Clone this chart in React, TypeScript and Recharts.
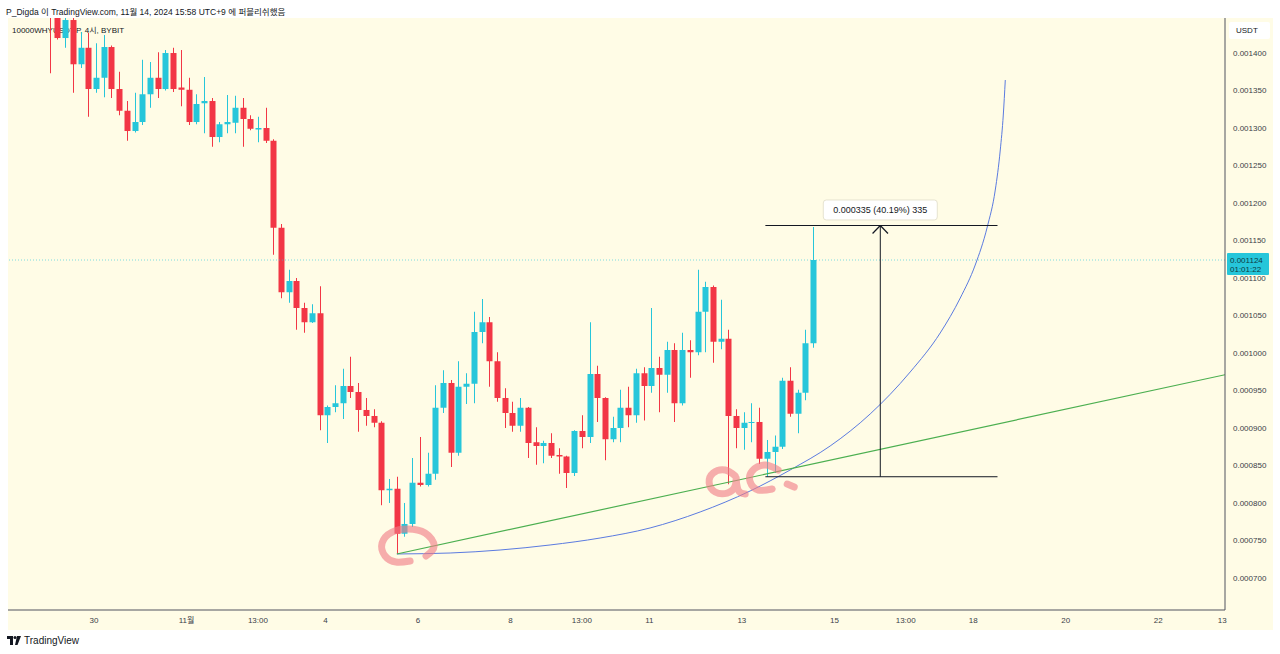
import React from 'react';
import {
  ComposedChart,
  Bar,
  Line,
  XAxis,
  YAxis,
  ReferenceLine,
  ReferenceDot
} from 'recharts';

const UP = '#26C6DA';
const DOWN = '#F23645';
const BG = '#FFFCE6';
const INK = '#131722';
const PINK = '#F07C86';

// 4h candles, index 0 = 10/29 01:00 (UTC+9)
const opens = [
  0.001462, 0.001462, 0.00142, 0.001444, 0.001385, 0.001407, 0.001352, 0.001367, 0.001408, 0.001352,
  0.001323, 0.001296, 0.001308, 0.001345, 0.001367, 0.001352, 0.0014, 0.001354, 0.001351, 0.001308,
  0.001333, 0.001336, 0.001288, 0.001305, 0.001307, 0.001327, 0.001312, 0.001298, 0.0013, 0.001283,
  0.001167, 0.001081, 0.001096, 0.00106, 0.001041, 0.001053, 0.000917, 0.000928, 0.000933, 0.000956,
  0.000948, 0.000924, 0.000916, 0.000907, 0.000817, 0.000819, 0.000759, 0.000772, 0.000827, 0.000824,
  0.000839, 0.000927, 0.00096, 0.000867, 0.000955, 0.000959, 0.001028, 0.001041, 0.000989, 0.00094,
  0.00092, 0.000903, 0.000927, 0.000881, 0.000876, 0.00088, 0.000864, 0.000862, 0.00084, 0.000896,
  0.000888, 0.000972, 0.00094, 0.000885, 0.0009, 0.000927, 0.000917, 0.000973, 0.000956, 0.00098,
  0.000971, 0.001004, 0.000933, 0.001004, 0.001001, 0.001055, 0.001088, 0.001015, 0.001019, 0.000916,
  0.0009, 0.000907, 0.000908, 0.000859, 0.000868, 0.000875, 0.000963, 0.000919, 0.000947, 0.001013
];
const highs = [
  0.001475, 0.001468, 0.00145, 0.00145, 0.001428, 0.001427, 0.001413, 0.001424, 0.00141, 0.001375,
  0.001336, 0.001347, 0.001391, 0.001388, 0.001401, 0.001404, 0.001407, 0.001404, 0.001367, 0.001345,
  0.001368, 0.00134, 0.001308, 0.001344, 0.001343, 0.00134, 0.001317, 0.001315, 0.001327, 0.001285,
  0.001172, 0.001111, 0.0011, 0.001067, 0.001065, 0.001089, 0.00093, 0.000957, 0.000979, 0.000995,
  0.00096, 0.00094, 0.000925, 0.000909, 0.000832, 0.000835, 0.0008, 0.00086, 0.000888, 0.000867,
  0.000957, 0.000977, 0.000964, 0.000989, 0.000973, 0.001055, 0.001072, 0.001048, 0.001001, 0.000953,
  0.000935, 0.00094, 0.000928, 0.000901, 0.000883, 0.000893, 0.000873, 0.000863, 0.000897, 0.000917,
  0.001041, 0.000983, 0.000941, 0.000915, 0.000951, 0.000955, 0.000979, 0.000981, 0.00106, 0.000995,
  0.001015, 0.001013, 0.001027, 0.001017, 0.001111, 0.001095, 0.00109, 0.001071, 0.001031, 0.000925,
  0.000921, 0.000933, 0.000927, 0.000884, 0.00089, 0.000967, 0.000981, 0.000951, 0.001031, 0.001168
];
const lows = [
  0.001373, 0.001418, 0.001407, 0.001347, 0.00138, 0.001315, 0.001347, 0.001341, 0.00134, 0.001317,
  0.001283, 0.001294, 0.001304, 0.001327, 0.00134, 0.00135, 0.001348, 0.001329, 0.001304, 0.001305,
  0.001293, 0.001275, 0.001281, 0.001293, 0.001293, 0.001275, 0.001297, 0.001281, 0.00128, 0.001131,
  0.001073, 0.001067, 0.001031, 0.001027, 0.00104, 0.000897, 0.00088, 0.000921, 0.000912, 0.00094,
  0.000895, 0.000903, 0.000901, 0.000797, 0.0008, 0.000732, 0.000755, 0.000768, 0.000822, 0.000822,
  0.000831, 0.00092, 0.000848, 0.000863, 0.000932, 0.000933, 0.001013, 0.000955, 0.000935, 0.0009,
  0.000895, 0.000895, 0.00086, 0.000851, 0.000853, 0.00086, 0.000839, 0.00082, 0.000836, 0.000873,
  0.00088, 0.000908, 0.000857, 0.000881, 0.000881, 0.000901, 0.000907, 0.00091, 0.000947, 0.000921,
  0.000947, 0.000908, 0.00093, 0.000967, 0.000997, 0.001001, 0.000987, 0.001005, 0.000825, 0.000873,
  0.000871, 0.000881, 0.000852, 0.000835, 0.00084, 0.000872, 0.000915, 0.000893, 0.000937, 0.001007
];
const closes = [
  0.001455, 0.00142, 0.001444, 0.001385, 0.001407, 0.001352, 0.001367, 0.001408, 0.001352, 0.001323,
  0.001296, 0.001308, 0.001345, 0.001367, 0.001352, 0.0014, 0.001352, 0.001351, 0.001308, 0.001332,
  0.001336, 0.001288, 0.001305, 0.001308, 0.001327, 0.001312, 0.001299, 0.0013, 0.001283, 0.001167,
  0.001081, 0.001096, 0.00106, 0.001041, 0.001053, 0.000917, 0.000928, 0.000933, 0.000956, 0.000948,
  0.000924, 0.000916, 0.000907, 0.000817, 0.000819, 0.000759, 0.000772, 0.000827, 0.000824, 0.000839,
  0.000927, 0.00096, 0.000867, 0.000955, 0.000959, 0.001028, 0.001041, 0.000989, 0.00094, 0.00092,
  0.000903, 0.000927, 0.00088, 0.000876, 0.00088, 0.000863, 0.000862, 0.00084, 0.000896, 0.000888,
  0.000972, 0.00094, 0.000885, 0.0009, 0.000927, 0.000917, 0.000973, 0.000956, 0.00098, 0.000971,
  0.001004, 0.000933, 0.001004, 0.001001, 0.001055, 0.001088, 0.001015, 0.001019, 0.000916, 0.0009,
  0.000907, 0.000908, 0.000859, 0.000868, 0.000875, 0.000963, 0.000919, 0.000947, 0.001013, 0.001124
];

const candles = opens.map((o, i) => ({
  i,
  open: o,
  high: highs[i],
  low: lows[i],
  close: closes[i]
}));

// time axis (candle index units)
const xTickPos = [5.75, 17.75, 27, 35.75, 47.75, 59.75, 69, 77.75, 89.75, 101.75, 111, 119.75, 131.75, 143.75, 152.05];
const xTickLabels = ['30', '11월', '13:00', '4', '6', '8', '13:00', '11', '13', '15', '13:00', '18', '20', '22', '13'];
const yTicks = [
  0.0007, 0.00075, 0.0008, 0.00085, 0.0009, 0.00095, 0.001, 0.00105,
  0.0011, 0.00115, 0.0012, 0.00125, 0.0013, 0.00135, 0.0014
];

const lastPrice = 0.001124;
const countdown = '01:01:22';

// drawings
const trendLine = [
  { i: 45, p: 0.000732 },
  { i: 152.4, p: 0.000971 }
];
const curveLine = [
  { i: 45.05, p: 0.000732 },
  { i: 51.92, p: 0.0007333 },
  { i: 58.4, p: 0.0007373 },
  { i: 64.88, p: 0.000744 },
  { i: 71.37, p: 0.0007533 },
  { i: 77.85, p: 0.0007667 },
  { i: 84.34, p: 0.000788 },
  { i: 90.82, p: 0.000816 },
  { i: 96.01, p: 0.000844 },
  { i: 101.2, p: 0.000876 },
  { i: 106.39, p: 0.0009187 },
  { i: 111.58, p: 0.0009747 },
  { i: 115.47, p: 0.0010267 },
  { i: 118.07, p: 0.0010733 },
  { i: 120.01, p: 0.0011173 },
  { i: 121.57, p: 0.001168 },
  { i: 122.61, p: 0.0012173 },
  { i: 123.26, p: 0.0012707 },
  { i: 123.65, p: 0.0013173 },
  { i: 123.91, p: 0.001364 }
];
const scribbleA = [
  { i: 48.8, p: 0.0007293 },
  { i: 49.85, p: 0.0007427 },
  { i: 48.68, p: 0.00076 },
  { i: 46.47, p: 0.0007653 },
  { i: 44.4, p: 0.0007613 },
  { i: 43.1, p: 0.0007467 },
  { i: 43.49, p: 0.0007293 },
  { i: 44.9, p: 0.0007213 },
  { i: 46.73, p: 0.0007227 }
];
const scribbleB = [
  { i: 88.88, p: 0.000836 },
  { i: 87.59, p: 0.000844 },
  { i: 86.03, p: 0.00084 },
  { i: 85.51, p: 0.0008267 },
  { i: 86.29, p: 0.0008147 },
  { i: 87.85, p: 0.0008133 },
  { i: 88.88, p: 0.0008227 },
  { i: 89.01, p: 0.0008333 },
  { i: 89.27, p: 0.0008173 },
  { i: 90.18, p: 0.000812 }
];
const scribbleC = [
  { i: 94.46, p: 0.000844 },
  { i: 92.77, p: 0.0008507 },
  { i: 91.09, p: 0.0008427 },
  { i: 90.83, p: 0.000828 },
  { i: 91.87, p: 0.0008173 },
  { i: 93.68, p: 0.0008187 }
];
const scribbleD = [
  { i: 95.63, p: 0.0008253 },
  { i: 96.54, p: 0.0008213 }
];

const measureTop = 0.00117;
const measureBottom = 0.000835;
const measureFrom = 92.8;
const measureTo = 122.9;
const measureX = 107.7;
const measureText = '0.000335 (40.19%) 335';

const Candle = (props: any) => {
  const { x, y, width, height, payload } = props;
  if (!payload || height == null || isNaN(y)) return null;
  const { open, close, high, low } = payload;
  const color = close >= open ? UP : DOWN;
  const k = height / (high - low);
  const yOf = (v: number) => y + (high - v) * k;
  const top = yOf(Math.max(open, close));
  const bot = yOf(Math.min(open, close));
  const cx = Math.round(x + width / 2) + 0.5;
  return (
    <g>
      <line x1={cx} x2={cx} y1={y} y2={y + height} stroke={color} strokeWidth={1} />
      <rect x={cx - 3} y={top} width={6} height={Math.max(1, bot - top)} fill={color} />
    </g>
  );
};

const PriceTag = (props: any) => {
  const vb = props.viewBox;
  if (!vb) return null;
  const left = vb.x + vb.width + 2;
  return (
    <g>
      <rect x={left} y={vb.y - 7} width={42} height={22} fill={UP} rx={1} />
      <text x={left + 3} y={vb.y + 3} fontSize={8} fill="#0E3B44">{lastPrice.toFixed(6)}</text>
      <text x={left + 3} y={vb.y + 12} fontSize={8} fill="#0E3B44">{countdown}</text>
    </g>
  );
};

const MeasureLabel = (props: any) => {
  const { cx, cy } = props;
  return (
    <g>
      <rect x={cx - 57} y={cy - 10} width={114} height={20} rx={3} fill="#ffffff" stroke="#E6E3D0" />
      <text x={cx} y={cy + 3.5} textAnchor="middle" fontSize={9} fill={INK}>{measureText}</text>
    </g>
  );
};

const font = "'Liberation Sans', 'Noto Sans CJK KR', sans-serif";

const pinkProps = {
  dataKey: 'p',
  stroke: PINK,
  strokeOpacity: 0.62,
  strokeWidth: 7,
  strokeLinecap: 'round' as const,
  dot: false,
  isAnimationActive: false
};

export default function App() {
  return (
    <div style={{ position: 'absolute', left: 0, top: 0, width: 1280, height: 654, background: '#fff', fontFamily: font, overflow: 'hidden' }}>
      <div style={{ position: 'absolute', left: 6, top: 5, fontSize: 8.5, color: INK, whiteSpace: 'nowrap' }}>
        P_Digda 이 TradingView.com, 11월 14, 2024 15:58 UTC+9 에 퍼블리쉬했음
      </div>
      <div style={{ position: 'absolute', left: 8, top: 18, width: 1265, height: 612, background: BG }}>
        <div style={{ position: 'absolute', left: 4, top: 6, fontSize: 8, color: INK, whiteSpace: 'nowrap' }}>
          10000WHYUSDT.P, 4시, BYBIT
        </div>
        <div style={{ position: 'absolute', left: 1221, top: 4, width: 41, height: 17, background: '#fff', borderRadius: 2, fontSize: 8, color: INK, lineHeight: '17px', textAlign: 'left', paddingLeft: 7, boxSizing: 'border-box' }}>
          USDT
        </div>
        <div style={{ position: 'absolute', left: 0, top: 0 }}>
          <ComposedChart
            width={1265}
            height={612}
            data={candles}
            margin={{ top: 0, right: 0, bottom: 0, left: 0 }}
          >
            <XAxis
              dataKey="i"
              type="number"
              domain={[-5.41, 152.4]}
              allowDataOverflow
              ticks={xTickPos}
              interval={0}
              tickFormatter={(v: number) => xTickLabels[xTickPos.indexOf(v)] ?? ''}
              tick={{ fontSize: 8, fill: '#3B3E48' }}
              tickLine={false}
              axisLine={{ stroke: '#50535E' }}
              height={20}
              tickMargin={1}
            />
            <YAxis
              orientation="right"
              type="number"
              domain={[0.0006573, 0.0014467]}
              allowDataOverflow
              ticks={yTicks}
              interval={0}
              tickFormatter={(v: number) => v.toFixed(6)}
              tick={{ fontSize: 8, fill: '#3B3E48' }}
              tickLine={false}
              axisLine={{ stroke: '#50535E' }}
              width={48}
            />
            <ReferenceLine y={lastPrice} stroke={UP} strokeOpacity={0.6} strokeDasharray="1 2" label={PriceTag} />
            <Bar dataKey={(d: any) => [d.low, d.high]} shape={Candle} barSize={6} isAnimationActive={false} />
            <Line data={curveLine} dataKey="p" type="monotone" stroke="#5B7BE0" strokeWidth={1} dot={false} isAnimationActive={false} />
            <Line data={trendLine} dataKey="p" type="linear" stroke="#4CAF50" strokeWidth={1.2} dot={false} isAnimationActive={false} />
            <Line data={scribbleA} type="natural" {...pinkProps} />
            <Line data={scribbleB} type="natural" {...pinkProps} />
            <Line data={scribbleC} type="natural" {...pinkProps} />
            <Line data={scribbleD} type="linear" {...pinkProps} />
            <ReferenceLine segment={[{ x: measureFrom, y: measureTop }, { x: measureTo, y: measureTop }]} stroke={INK} strokeWidth={1} />
            <ReferenceLine segment={[{ x: measureFrom, y: measureBottom }, { x: measureTo, y: measureBottom }]} stroke={INK} strokeWidth={1} />
            <ReferenceLine segment={[{ x: measureX, y: measureBottom }, { x: measureX, y: measureTop }]} stroke={INK} strokeWidth={1} />
            <ReferenceLine segment={[{ x: measureX - 1, y: measureTop - 0.0000107 }, { x: measureX, y: measureTop }]} stroke={INK} strokeWidth={1.2} />
            <ReferenceLine segment={[{ x: measureX + 1, y: measureTop - 0.0000107 }, { x: measureX, y: measureTop }]} stroke={INK} strokeWidth={1.2} />
            <ReferenceDot x={measureX} y={0.0011907} r={0} shape={MeasureLabel} />
          </ComposedChart>
        </div>
      </div>
      <div style={{ position: 'absolute', left: 7, top: 635, display: 'flex', alignItems: 'center', gap: 3 }}>
        <svg width={14} height={9} viewBox="0 0 14 9">
          <rect x={0} y={0} width={6} height={3} fill={INK} />
          <rect x={3} y={0} width={3} height={9} fill={INK} />
          <circle cx={8} cy={1.5} r={1.5} fill={INK} />
          <polygon points="10,0 14,0 10.5,9 8,9" fill={INK} />
        </svg>
        <span style={{ fontSize: 10, color: INK }}>TradingView</span>
      </div>
    </div>
  );
}
